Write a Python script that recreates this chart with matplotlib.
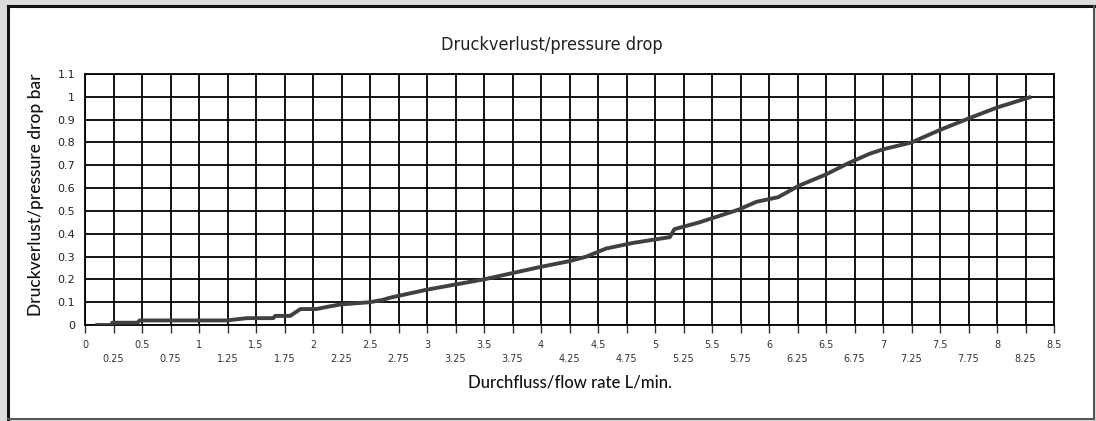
import numpy as np
import matplotlib
matplotlib.use("Agg")
import matplotlib.pyplot as plt
from matplotlib.patches import Rectangle
from matplotlib.lines import Line2D
from matplotlib.ticker import MultipleLocator

# Daten
flow = [0.09, 0.23, 0.24, 0.46, 0.48, 1.24, 1.42, 1.65, 1.67, 1.80, 1.89, 2.03,
        2.13, 2.24, 2.50, 2.61, 2.68, 3.00, 3.50, 4.00, 4.25, 4.40, 4.57, 4.81,
        5.13, 5.17, 5.39, 5.73, 5.89, 6.08, 6.26, 6.50, 6.70, 6.88, 7.00, 7.25,
        7.50, 7.75, 8.00, 8.30]
dp = [0.0, 0.0, 0.01, 0.01, 0.02, 0.02, 0.03, 0.03, 0.04, 0.04, 0.07, 0.07,
      0.08, 0.09, 0.10, 0.11, 0.12, 0.155, 0.20, 0.255, 0.28, 0.30, 0.335, 0.36,
      0.385, 0.42, 0.45, 0.505, 0.54, 0.56, 0.61, 0.66, 0.71, 0.75, 0.77, 0.80,
      0.855, 0.905, 0.953, 1.0]

titel = "Druckverlust/pressure drop"
x_label = "Durchfluss/flow rate L/min."
y_label = "Druckverlust/pressure drop bar"

W, H = 1096, 421
fig = plt.figure(figsize=(W / 100, H / 100), dpi=100, facecolor="#dcdcdc")

# Rahmen
fig.patches.append(Rectangle((8 / W, 2 / H), 1086 / W, 413 / H, transform=fig.transFigure,
                             facecolor="white", edgecolor="none", zorder=-10))
fig.lines.append(Line2D([8 / W, 8 / W], [2 / H, 415 / H], transform=fig.transFigure,
                        color="#111111", lw=2.2))
fig.lines.append(Line2D([8 / W, 1094 / W], [415 / H, 415 / H], transform=fig.transFigure,
                        color="#111111", lw=2.2))
fig.lines.append(Line2D([1094 / W, 1094 / W], [2 / H, 415 / H], transform=fig.transFigure,
                        color="#555555", lw=1.5))
fig.lines.append(Line2D([8 / W, 1094 / W], [2 / H, 2 / H], transform=fig.transFigure,
                        color="#555555", lw=1.5))

ax = fig.add_axes([85 / W, 96 / H, 969 / W, 251 / H])
ax.set_zorder(5)
ax.set_xlim(0, 8.5)
ax.set_ylim(0, 1.1)

ax.xaxis.set_major_locator(MultipleLocator(0.5))
ax.xaxis.set_minor_locator(MultipleLocator(0.25))
ax.yaxis.set_major_locator(MultipleLocator(0.1))

ax.xaxis.set_major_formatter(plt.FuncFormatter(lambda v, p: f"{v:g}"))
ax.xaxis.set_minor_formatter(plt.FuncFormatter(lambda v, p: "" if abs(v * 2 - round(v * 2)) < 1e-6 else f"{v:g}"))
ax.yaxis.set_major_formatter(plt.FuncFormatter(lambda v, p: f"{v:.1f}".rstrip("0").rstrip(".") if v else "0"))

ax.grid(True, which="both", axis="x", color="black", lw=1.3)
ax.grid(True, which="major", axis="y", color="black", lw=1.3)

ax.tick_params(axis="x", which="major", length=6, width=1, color="#333333",
               labelsize=7, labelcolor="#333333", pad=5)
ax.tick_params(axis="x", which="minor", length=6, width=1, color="#333333",
               labelsize=7, labelcolor="#333333", pad=15)
ax.tick_params(axis="y", length=0, labelsize=8, labelcolor="#222222", pad=7)

for s in ax.spines.values():
    s.set_color("black")
    s.set_linewidth(1.3)

ax.plot(flow, dp, color="#404040", lw=2.8, solid_capstyle="butt", zorder=5)

fig.text(552 / W, 1 - 45 / H, titel, ha="center", va="center", fontsize=13,
         family="DejaVu Sans", fontstretch="condensed", color="#222222")
fig.text(570 / W, 1 - 382 / H, x_label, ha="center", va="center", fontsize=12,
         family=["Lato", "DejaVu Sans"], fontweight="medium", color="#111111")
fig.text(36 / W, 1 - 195 / H, y_label, ha="center", va="center", fontsize=12.5,
         rotation=90, family=["Lato", "DejaVu Sans"], fontweight="medium", color="#111111")

fig.savefig("out.png", dpi=100, facecolor=fig.get_facecolor())
